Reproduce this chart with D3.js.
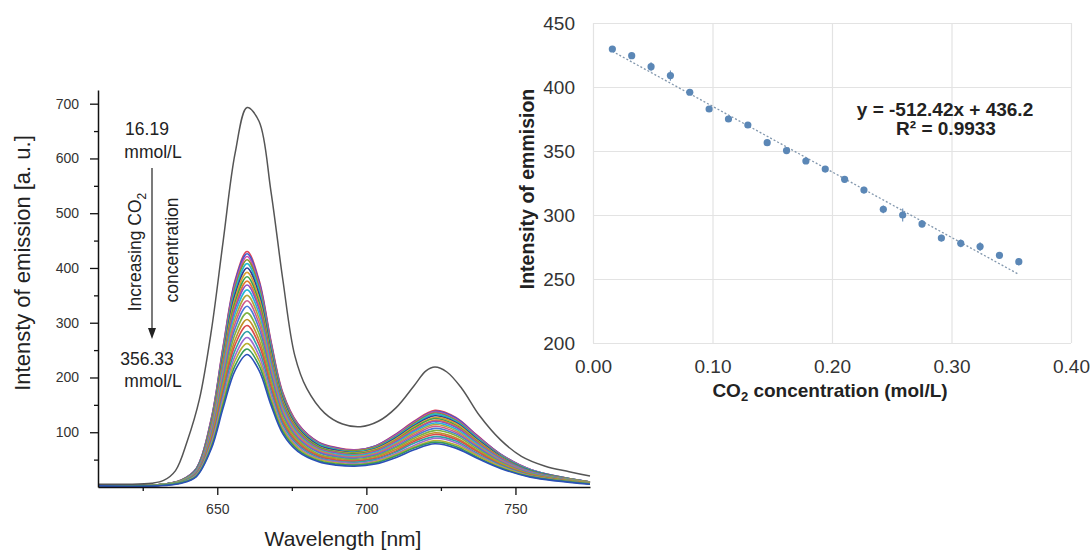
<!DOCTYPE html>
<html>
<head>
<meta charset="utf-8">
<script src="https://cdn.jsdelivr.net/npm/d3@7/dist/d3.min.js"></script>
<style>
  body { margin: 0; background: #fff; }
  svg { display: block; font-family: "Liberation Sans", Arial, sans-serif; }
</style>
</head>
<body>
<svg id="chart" width="1092" height="552"></svg>
<script>
// ---- left panel: emission spectra ----
var specWl = [610, 630, 638, 643, 648, 652, 656, 660, 664, 668, 672, 677, 684, 690, 696, 703, 710, 716, 723, 730, 737, 745, 755, 775];

var grayWl  = [610, 620, 628, 632, 636, 640, 644, 648, 652, 656, 660, 664, 668, 672, 676, 680, 686, 692, 698, 704, 710, 716, 720, 723, 727, 732, 738, 745, 752, 760, 768, 775];
var grayInt = [5, 5, 7, 12, 30, 85, 160, 285, 450, 610, 693, 668, 540, 378, 240, 180, 135, 115, 110, 120, 145, 185, 212, 219, 210, 180, 130, 86, 56, 38, 28, 20];

// one row per CO2 concentration (16.19 -> 356.33 mmol/L)
var coloredInt = [
  [3,4,13,34,125,258,378,430,378,267,172,116,82,72,68,75,97,120,140,127,95,60,32,9],
  [3,4,13,34,124,256,375,426,375,264,170,115,81,71,67,75,96,119,138,126,94,60,32,9],
  [3,4,13,34,122,253,370,421,370,261,168,114,80,70,67,74,95,118,137,124,93,59,32,9],
  [3,4,12,33,120,249,365,415,365,257,166,112,79,69,66,73,93,116,135,122,91,58,31,9],
  [3,4,12,33,118,245,359,408,359,253,163,110,78,68,64,71,92,114,133,120,90,57,31,9],
  [3,4,12,32,116,240,352,400,352,248,160,108,76,67,63,70,90,112,130,118,88,56,30,9],
  [3,4,12,31,114,235,345,392,345,243,157,106,74,65,62,69,88,110,127,116,86,55,29,9],
  [3,4,12,31,111,230,338,384,338,238,154,104,73,64,61,67,86,108,125,113,84,54,29,8],
  [3,4,11,30,109,226,331,376,331,233,150,102,71,63,59,66,85,105,122,111,83,53,28,8],
  [3,4,11,30,107,221,325,369,325,229,148,100,70,62,58,65,83,103,120,109,81,52,28,8],
  [3,4,11,29,104,216,317,360,317,223,144,97,68,60,57,63,81,101,117,106,79,50,27,8],
  [3,4,11,28,102,210,308,350,308,217,140,95,67,58,55,61,79,98,114,103,77,49,26,8],
  [3,3,10,27,99,204,299,340,299,211,136,92,65,57,54,60,77,95,111,100,75,48,26,7],
  [3,3,10,26,96,198,290,330,290,205,132,89,63,55,52,58,74,92,107,97,73,46,25,7],
  [3,3,10,25,92,191,280,318,280,197,127,86,60,53,50,56,72,89,103,94,70,45,24,7],
  [2,3,9,24,89,184,269,306,269,190,122,83,58,51,48,54,69,86,99,90,67,43,23,7],
  [2,3,9,24,86,177,260,295,260,183,118,80,56,49,47,52,66,83,96,87,65,41,22,6],
  [2,3,9,23,82,170,250,284,250,176,114,77,54,47,45,50,64,80,92,84,62,40,21,6],
  [2,3,8,22,79,164,240,273,240,169,109,74,52,46,43,48,61,76,89,81,60,38,20,6],
  [2,3,8,21,76,157,231,262,231,162,105,71,50,44,41,46,59,73,85,77,58,37,20,6],
  [2,3,8,20,73,151,222,252,222,156,101,68,48,42,40,44,57,71,82,74,55,35,19,6],
  [2,2,7,19,70,145,213,242,213,150,97,65,46,40,38,42,54,68,79,71,53,34,18,5]
];
var lineColors = ['#e0445a', '#3c5ccf', '#c94fb0', '#8d8d2c', '#22b8c8', '#2f3d96', '#d8a032', '#3fa34d',
                  '#e37b2f', '#8e4fc2', '#27b5d6', '#b3a63a', '#d05a8a', '#4a78d6', '#7cb342', '#c0902a',
                  '#d94b4b', '#30a0a8', '#9c6bd0', '#b8b030', '#3a9a5a', '#2b4fb8'];

var wlTicks = [650, 700, 750];
var wlMinor = [625, 675, 725];
var intTicks = [100, 200, 300, 400, 500, 600, 700];
var intMinor = [50, 150, 250, 350, 450, 550, 650];

// ---- right panel: calibration ----
var co2Conc = [0.01619, 0.03239, 0.04858, 0.06478, 0.08098, 0.09717, 0.11337, 0.12957, 0.14576, 0.16196, 0.17815,
               0.19435, 0.21055, 0.22674, 0.24294, 0.25914, 0.27533, 0.29153, 0.30773, 0.32392, 0.34012, 0.35633];
var emission = [429.7, 424.5, 415.9, 408.9, 395.9, 382.8, 375.0, 370.3, 356.5, 350.3, 342.2,
                335.9, 327.9, 319.5, 304.4, 300.0, 293.0, 282.0, 277.9, 275.3, 268.5, 263.5];
var emissionErr = [1.5, 2, 3.5, 4, 1.5, 2, 2, 2, 2, 2.5, 2, 1.5, 2.5, 2.5, 3, 5, 3, 2.5, 3, 3.5, 2, 3];
var fitSlope = -512.42, fitIntercept = 436.2;
var concTicks = [0, 0.1, 0.2, 0.3, 0.4];
var emTicks = [200, 250, 300, 350, 400, 450];

var svg = d3.select('#chart');
svg.append('rect').attr('width', 1092).attr('height', 552).attr('fill', '#fff');

// ================= left panel =================
var xL = d3.scaleLinear().domain([610, 775]).range([98, 590]);
var yL = d3.scaleLinear().domain([0, 725]).range([487, 90]);

var left = svg.append('g');

var line = d3.line().curve(d3.curveCatmullRom.alpha(0.5));

left.append('g').selectAll('path')
  .data(coloredInt)
  .enter().append('path')
  .attr('d', function (row) { return line(row.map(function (v, i) { return [xL(specWl[i]), yL(v)]; })); })
  .attr('fill', 'none')
  .attr('stroke', function (d, i) { return lineColors[i % lineColors.length]; })
  .attr('stroke-width', 1.6);

left.append('path')
  .attr('d', line(grayInt.map(function (v, i) { return [xL(grayWl[i]), yL(v)]; })))
  .attr('fill', 'none')
  .attr('stroke', '#555')
  .attr('stroke-width', 1.5);

// axes
left.append('g').attr('transform', 'translate(98,0)')
  .call(d3.axisLeft(yL).tickValues(intTicks).tickSize(8).tickSizeOuter(0).tickPadding(11));
left.append('g').attr('transform', 'translate(98,0)')
  .call(d3.axisLeft(yL).tickValues(intMinor).tickSize(4).tickFormat(''))
  .select('.domain').remove();
left.append('g').attr('transform', 'translate(0,487)')
  .call(d3.axisBottom(xL).tickValues(wlTicks).tickSize(8).tickSizeOuter(0).tickPadding(9));
left.append('g').attr('transform', 'translate(0,487)')
  .call(d3.axisBottom(xL).tickValues(wlMinor).tickSize(4).tickFormat(''))
  .select('.domain').remove();

left.selectAll('.domain').attr('stroke', '#111').attr('stroke-width', 1.5);
left.selectAll('.tick line').attr('stroke', '#111').attr('stroke-width', 1.3);
left.selectAll('.tick text').attr('font-size', 14).attr('fill', '#333').attr('font-family', null);

left.append('text')
  .attr('x', 343).attr('y', 546)
  .attr('text-anchor', 'middle')
  .attr('font-size', 21).attr('fill', '#222')
  .text('Wavelength [nm]');

left.append('text')
  .attr('transform', 'translate(22,263) rotate(-90)')
  .attr('text-anchor', 'middle').attr('dy', '0.35em')
  .attr('font-size', 22).attr('fill', '#222')
  .text('Intensty of emission [a. u.]');

// annotation
var ann = left.append('g').attr('fill', '#222').attr('font-size', 17.5);
ann.append('text').attr('x', 147).attr('y', 135).attr('text-anchor', 'middle').text('16.19');
ann.append('text').attr('x', 153).attr('y', 158).attr('text-anchor', 'middle').text('mmol/L');
ann.append('text').attr('x', 147).attr('y', 365).attr('text-anchor', 'middle').text('356.33');
ann.append('text').attr('x', 153).attr('y', 387).attr('text-anchor', 'middle').text('mmol/L');

var inc = ann.append('text')
  .attr('transform', 'translate(135,252) rotate(-90)')
  .attr('text-anchor', 'middle').attr('dy', '0.35em');
inc.append('tspan').text('Increasing CO');
inc.append('tspan').attr('font-size', 12).attr('dy', 5).text('2');

ann.append('text')
  .attr('transform', 'translate(172,250) rotate(-90)')
  .attr('text-anchor', 'middle').attr('dy', '0.35em')
  .text('concentration');

ann.append('line')
  .attr('x1', 152).attr('x2', 152).attr('y1', 168).attr('y2', 330)
  .attr('stroke', '#222').attr('stroke-width', 1.2);
ann.append('path')
  .attr('d', 'M148,328 L156,328 L152,339 Z')
  .attr('fill', '#222');

// ================= right panel =================
var xR = d3.scaleLinear().domain([0, 0.4]).range([593, 1071]);
var yR = d3.scaleLinear().domain([200, 450]).range([343, 23]);
var right = svg.append('g');

right.append('g').attr('transform', 'translate(0,343)')
  .call(d3.axisBottom(xR).tickValues(concTicks).tickSize(-320).tickPadding(17).tickFormat(d3.format('.2f')));
right.append('g').attr('transform', 'translate(593,0)')
  .call(d3.axisLeft(yR).tickValues(emTicks).tickSize(-478).tickPadding(18).tickFormat(d3.format('d')));
right.selectAll('.domain').remove();
right.selectAll('.tick line').attr('stroke', '#e3e3e3').attr('stroke-width', 1.2);
right.selectAll('.tick text').attr('font-size', 19).attr('fill', '#333').attr('font-family', null);

// trendline
var x0 = co2Conc[0], x1 = co2Conc[co2Conc.length - 1];
right.append('line')
  .attr('x1', xR(x0)).attr('y1', yR(fitSlope * x0 + fitIntercept))
  .attr('x2', xR(x1)).attr('y2', yR(fitSlope * x1 + fitIntercept))
  .attr('stroke', '#8297ad').attr('stroke-width', 1.3).attr('stroke-dasharray', '2,2');

var pts = right.append('g').selectAll('g')
  .data(co2Conc)
  .enter().append('g');
pts.append('line')
  .attr('x1', function (d) { return xR(d); }).attr('x2', function (d) { return xR(d); })
  .attr('y1', function (d, i) { return yR(emission[i] - emissionErr[i]); })
  .attr('y2', function (d, i) { return yR(emission[i] + emissionErr[i]); })
  .attr('stroke', '#6f93bb').attr('stroke-width', 1.2);
pts.append('circle')
  .attr('cx', function (d) { return xR(d); })
  .attr('cy', function (d, i) { return yR(emission[i]); })
  .attr('r', 3.6)
  .attr('fill', '#5b87b6');

right.append('text')
  .attr('x', 945).attr('y', 116)
  .attr('text-anchor', 'middle').attr('font-size', 19).attr('font-weight', 'bold').attr('fill', '#222')
  .text('y = -512.42x + 436.2');
right.append('text')
  .attr('x', 946).attr('y', 135)
  .attr('text-anchor', 'middle').attr('font-size', 19).attr('font-weight', 'bold').attr('fill', '#222')
  .text('R² = 0.9933');

var xt = right.append('text')
  .attr('x', 830).attr('y', 397)
  .attr('text-anchor', 'middle').attr('font-size', 19).attr('font-weight', 'bold').attr('fill', '#222');
xt.append('tspan').text('CO');
xt.append('tspan').attr('font-size', 13).attr('dy', 4).text('2');
xt.append('tspan').attr('dy', -4).text(' concentration (mol/L)');

right.append('text')
  .attr('transform', 'translate(527,189) rotate(-90)')
  .attr('text-anchor', 'middle').attr('dy', '0.35em')
  .attr('font-size', 19.5).attr('font-weight', 'bold').attr('fill', '#222')
  .text('Intensity of emmision');
</script>
</body>
</html>
